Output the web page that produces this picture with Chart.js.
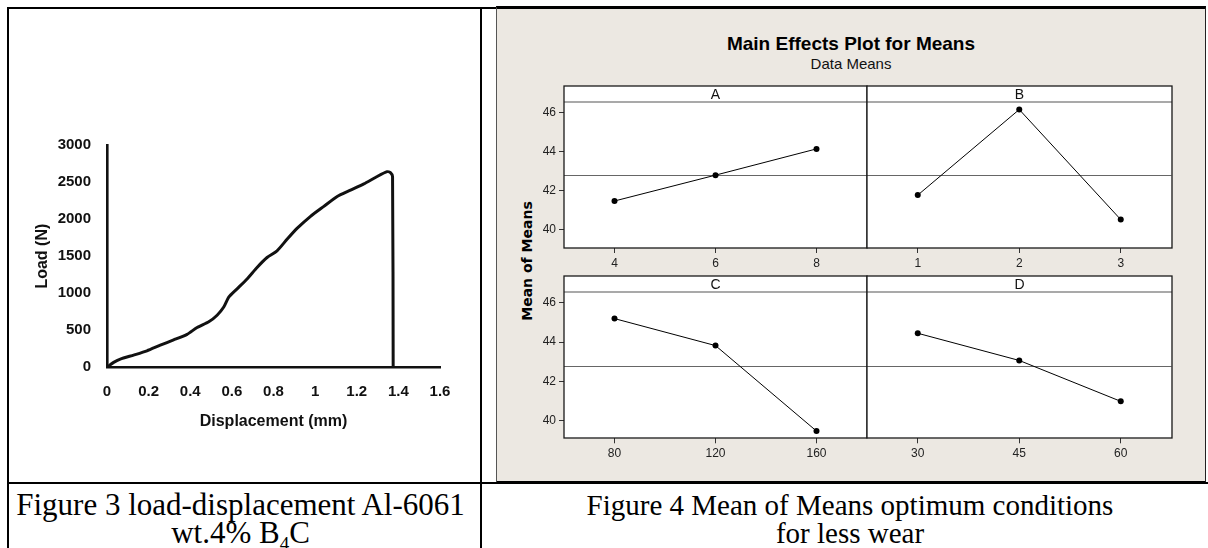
<!DOCTYPE html>
<html>
<head>
<meta charset="utf-8">
<script src="https://cdn.jsdelivr.net/npm/chart.js@4.4.1/dist/chart.umd.min.js"></script>
<style>
  body { margin: 0; background: #fff; overflow: hidden; }
  #page { position: relative; width: 1208px; height: 548px; }
  .ln { position: absolute; background: #000; }
  canvas { position: absolute; }
  #fig4 { position: absolute; left: 496px; top: 6px; width: 710px; height: 478px; box-sizing: border-box;
          background: #ece8e2; border-top: 3px solid #000; border-bottom: 3px solid #000;
          border-left: 1px solid #555; border-right: 1px solid #222; }
  .txt { position: absolute; text-align: center; white-space: nowrap; }
  .cap { font-family: "Liberation Serif", serif; font-size: 30px; line-height: 28px; color: #000; }
</style>
</head>
<body>
<div id="page">
  <div class="ln" style="left:7px;top:7px;width:2px;height:541px"></div>
  <div class="ln" style="left:7px;top:7px;width:490px;height:2px"></div>
  <div class="ln" style="left:480px;top:7px;width:2px;height:541px"></div>
  <div id="fig4"></div>
  <div class="ln" style="left:7px;top:482px;width:1201px;height:2px"></div>

  <canvas id="loadChart" width="455" height="320" style="left:20px;top:120px"></canvas>

  <div class="txt" style="left:496px;top:33px;width:710px;font:bold 19px 'Liberation Sans';color:#000">Main Effects Plot for Means</div>
  <div class="txt" style="left:496px;top:55px;width:710px;font:15px 'Liberation Sans';color:#111">Data Means</div>
  <div class="txt" style="left:467px;top:253px;width:120px;font:bold 14px 'DejaVu Sans';color:#000;transform:rotate(-90deg)">Mean of Means</div>

  <canvas id="panelA"></canvas>
  <canvas id="panelB"></canvas>
  <canvas id="panelC"></canvas>
  <canvas id="panelD"></canvas>

  <div class="txt cap" style="left:5px;top:491px;width:471px;font-size:31px">Figure 3 load-displacement Al-6061<br>wt.4% B<sub style="font-size:19px;line-height:0">4</sub>C</div>
  <div class="txt cap" style="left:490px;top:491px;width:720px;font-size:29px">Figure 4 Mean of Means optimum conditions<br>for less wear</div>
</div>

<script>
// Figure 3: load vs displacement
const loadDisp = [0, 0.016, 0.032, 0.064, 0.128, 0.192, 0.256, 0.32, 0.385, 0.433, 0.489, 0.529, 0.561, 0.585,
                  0.625, 0.673, 0.721, 0.769, 0.817, 0.865, 0.913, 0.978, 1.042, 1.106, 1.17, 1.234, 1.298,
                  1.346, 1.362, 1.372, 1.375];
const loadN = [0, 35, 67, 111, 165, 222, 298, 369, 445, 538, 614, 703, 814, 948,
               1059, 1193, 1348, 1482, 1571, 1727, 1874, 2038, 2172, 2305, 2390, 2475, 2575,
               2640, 2628, 2575, 0];
const dispTicks = [0, 0.2, 0.4, 0.6, 0.8, 1, 1.2, 1.4, 1.6];
const loadTicks = [0, 500, 1000, 1500, 2000, 2500, 3000];

// Figure 4: main effects (data means)
const levelsA = ['4', '6', '8'];
const meansA = [41.48, 42.80, 44.14];
const levelsB = ['1', '2', '3'];
const meansB = [41.78, 46.15, 40.53];
const levelsC = ['80', '120', '160'];
const meansC = [45.20, 43.82, 39.45];
const levelsD = ['30', '45', '60'];
const meansD = [44.45, 43.06, 40.97];
const grandMean = 42.8;
const meanTicks = [40, 42, 44, 46];

Chart.defaults.animation = false;
Chart.defaults.responsive = false;
Chart.defaults.devicePixelRatio = 1;
Chart.defaults.plugins.legend.display = false;
Chart.defaults.plugins.tooltip.enabled = false;

const boldFont = size => ({ family: 'Liberation Sans', size: size, weight: 'bold' });

new Chart(document.getElementById('loadChart'), {
    type: 'scatter',
    data: {
        datasets: [{
            data: loadDisp.map((d, i) => ({ x: d, y: loadN[i] })),
            showLine: true,
            borderColor: '#111',
            borderWidth: 3,
            pointRadius: 0,
            tension: 0.2
        }]
    },
    options: {
        layout: { padding: { left: 0, top: 22.7, right: 35, bottom: 0 } },
        scales: {
            x: {
                type: 'linear', min: 0, max: 1.6,
                afterBuildTicks: s => { s.ticks = dispTicks.map(v => ({ value: v })); },
                afterFit: s => { s.height = 72.7; },
                grid: { display: false, drawTicks: false },
                border: { display: true, color: '#111', width: 2.6 },
                ticks: { padding: 15.4, color: '#111', font: boldFont(15), callback: v => String(v) },
                title: { display: true, text: 'Displacement (mm)', color: '#111', font: boldFont(16),
                         padding: { top: 0, bottom: 8.7 } }
            },
            y: {
                min: 0, max: 3000,
                afterBuildTicks: s => { s.ticks = loadTicks.map(v => ({ value: v })); },
                afterFit: s => { s.width = 87; },
                grid: { display: false, drawTicks: false },
                border: { display: true, color: '#111', width: 2.6 },
                ticks: { padding: 16, color: '#111', font: boldFont(15), callback: v => String(v) },
                title: { display: true, text: 'Load (N)', color: '#111', font: boldFont(16),
                         padding: { top: 13.4, bottom: 0 } }
            }
        }
    }
});

const panelPlugin = {
    id: 'panel',
    beforeDraw(chart) {
        const a = chart.chartArea, ctx = chart.ctx;
        ctx.save();
        ctx.fillStyle = '#fff';
        ctx.fillRect(a.left, a.top, a.right - a.left, a.bottom - a.top);
        ctx.restore();
    },
    beforeDatasetsDraw(chart, args, opts) {
        const a = chart.chartArea, ctx = chart.ctx;
        const y = Math.round(chart.scales.y.getPixelForValue(opts.ref)) + 0.5;
        ctx.save();
        ctx.strokeStyle = '#666';
        ctx.lineWidth = 1.2;
        ctx.beginPath();
        ctx.moveTo(a.left, y);
        ctx.lineTo(a.right, y);
        ctx.stroke();
        ctx.restore();
    },
    afterDraw(chart, args, opts) {
        const a = chart.chartArea, ctx = chart.ctx;
        const h = 15.8;
        const l = Math.round(a.left), r = Math.round(a.right);
        const t = Math.round(a.top), b = Math.round(a.bottom), st = Math.round(a.top - h);
        ctx.save();
        ctx.fillStyle = '#fff';
        ctx.fillRect(l, st, r - l, t - st);
        ctx.strokeStyle = '#555';
        ctx.lineWidth = 1.2;
        ctx.beginPath();
        ctx.moveTo(l, t);
        ctx.lineTo(r, t);
        ctx.stroke();
        ctx.strokeStyle = '#1a1a1a';
        ctx.lineWidth = 1.3;
        ctx.strokeRect(l, st, r - l, b - st);
        ctx.fillStyle = '#111';
        ctx.font = '14px "Liberation Sans"';
        ctx.textAlign = 'center';
        ctx.textBaseline = 'middle';
        ctx.fillText(opts.label, (l + r) / 2, (st + t) / 2 + 1);
        ctx.restore();
    }
};

function panelChart(id, letter, labels, values, plot, showY) {
    const yW = showY ? 40 : 0;
    const xH = 30;
    // keep a margin so the x labels never push the plot area inward
    const cl = Math.floor(plot.l) - yW - 10;
    const ct = Math.floor(plot.t) - 20;
    const cr = Math.ceil(plot.r) + 10;
    const cb = Math.ceil(plot.b) + xH + 2;
    const canvas = document.getElementById(id);
    canvas.width = cr - cl;
    canvas.height = cb - ct;
    canvas.style.left = cl + 'px';
    canvas.style.top = ct + 'px';
    const tickFont = { family: 'Liberation Sans', size: 12 };
    return new Chart(canvas, {
        type: 'line',
        data: {
            labels: labels,
            datasets: [{
                data: values,
                borderColor: '#000',
                borderWidth: 1,
                pointRadius: 3,
                pointBackgroundColor: '#000',
                pointBorderWidth: 0,
                tension: 0
            }]
        },
        options: {
            layout: { padding: { left: plot.l - yW - cl, top: plot.t - ct, right: cr - plot.r, bottom: cb - plot.b - xH } },
            scales: {
                x: {
                    type: 'category', offset: true,
                    afterFit: s => { s.height = xH; },
                    grid: { drawOnChartArea: false, drawTicks: true, tickLength: 5, color: '#333', lineWidth: 1, offset: false },
                    border: { display: false },
                    ticks: { padding: 3, color: '#222', font: tickFont, autoSkip: false, maxRotation: 0 }
                },
                y: {
                    min: 39.08, max: 46.56,
                    afterBuildTicks: s => { s.ticks = meanTicks.map(v => ({ value: v })); },
                    afterFit: s => { s.width = yW; },
                    grid: { display: showY, drawOnChartArea: false, drawTicks: showY, tickLength: 5, color: '#333', lineWidth: 1 },
                    border: { display: false },
                    ticks: { display: showY, padding: 3, color: '#222', font: tickFont }
                }
            },
            plugins: { panel: { label: letter, ref: grandMean } }
        },
        plugins: [panelPlugin]
    });
}

panelChart('panelA', 'A', levelsA, meansA, { l: 564, t: 101.5, r: 867, b: 248 }, true);
panelChart('panelB', 'B', levelsB, meansB, { l: 867, t: 101.5, r: 1171.5, b: 248 }, false);
panelChart('panelC', 'C', levelsC, meansC, { l: 564, t: 292, r: 867, b: 438.3 }, true);
panelChart('panelD', 'D', levelsD, meansD, { l: 867, t: 292, r: 1171.5, b: 438.3 }, false);
</script>
</body>
</html>
